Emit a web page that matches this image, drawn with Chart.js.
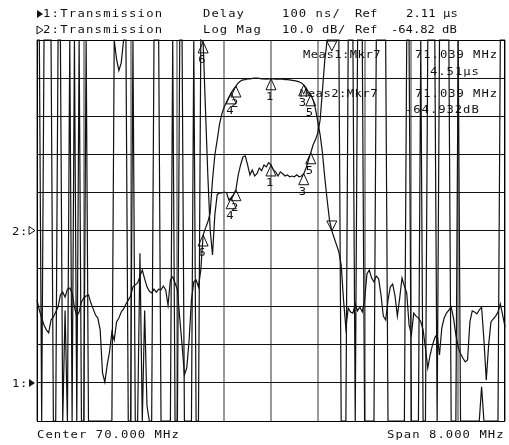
<!DOCTYPE html>
<html><head><meta charset="utf-8">
<script src="https://cdn.jsdelivr.net/npm/chart.js@4.4.0/dist/chart.umd.min.js"></script>
<style>html,body{margin:0;padding:0;background:#fff;overflow:hidden}#wrap{position:relative;width:509px;height:445px}</style>
</head><body><div id="wrap"><canvas id="c" width="509" height="445"></canvas></div>
<script>
// Sweep: 66..74 MHz, 201 points
const startMHz = 66.0, stopMHz = 74.0, nPoints = 201;
// Trace 1: group delay (µs)  (values at 3.01 / 2.01 are pinned at the screen edges)
const delayUs = [
3.01,3.01,2.01,3.01,3.01,3.01,3.01,2.01,2.01,3.01,
3.01,2.01,2.30,2.01,3.01,2.01,3.01,2.01,3.01,2.01,
2.01,3.01,2.01,2.01,2.01,2.01,2.01,2.01,2.01,2.01,
2.01,2.01,2.01,3.01,2.96,2.93,2.95,3.01,3.01,2.01,
2.01,3.01,2.01,2.01,2.45,2.01,2.30,2.05,2.01,2.01,
3.01,3.01,3.01,2.01,2.01,2.01,2.01,2.01,3.01,2.01,
2.01,3.01,3.01,2.01,2.01,2.01,2.01,3.01,2.01,2.01,
3.01,3.005,2.827,2.656,2.512,2.446,2.551,2.604,2.609,2.609,
2.611,2.609,2.590,2.596,2.604,2.617,2.656,2.682,2.703,2.706,
2.682,2.656,2.669,2.653,2.659,2.674,2.667,2.682,2.677,2.688,
2.682,2.669,2.664,2.653,2.664,2.659,2.653,2.656,2.651,2.653,
2.651,2.656,2.651,2.653,2.659,2.674,2.695,2.714,2.735,2.748,
2.766,2.800,2.879,2.958,3.04,3.6,4.51,3.5,3.01,3.01,
2.01,2.01,2.01,3.01,3.01,3.01,2.01,3.01,3.01,3.01,
2.01,2.01,2.01,2.01,2.01,3.01,3.01,3.01,3.01,3.01,
2.01,2.01,2.01,2.01,2.01,2.01,2.01,2.01,3.01,3.01,
2.01,2.01,2.01,2.01,3.01,2.01,2.01,3.01,3.01,3.01,
3.01,2.01,3.01,3.01,3.01,3.01,3.01,2.01,2.01,2.01,
3.01,2.01,2.01,2.01,2.01,2.01,2.01,2.01,2.01,2.01,
2.10,2.01,2.01,2.01,2.01,2.01,2.01,2.01,3.01,3.01,
3.01];
// Trace 2: log magnitude (dB)
const logMagDb = [
-83.1,-85.7,-87.8,-89.6,-90.9,-91.7,-88.3,-87.5,-86.2,-84.9,
-81.7,-81.0,-82.3,-80.2,-79.9,-81.2,-84.9,-87.3,-86.2,-83.6,
-82.5,-82.0,-81.7,-83.8,-85.4,-87.0,-87.8,-90.9,-102.2,-104.6,
-100.1,-96.7,-91.5,-93.6,-88.8,-87.8,-86.2,-85.4,-84.1,-83.1,
-82.0,-79.6,-79.1,-78.6,-76.8,-75.2,-77.5,-79.6,-80.7,-81.2,
-80.2,-81.0,-80.2,-80.4,-79.4,-80.4,-84.4,-77.8,-77.0,-78.6,
-80.4,-87.8,-94.9,-102.7,-100.9,-93.6,-83.1,-78.3,-77.8,-79.6,
-75.2,-66.0,-64.2,-62.6,-60.2,-51.6,-45.0,-41.1,-36.9,-34.2,
-32.4,-31.1,-29.8,-28.7,-27.7,-26.9,-26.1,-25.6,-25.3,-25.2,
-25.05,-25.0,-24.9,-24.8,-24.8,-24.9,-25.0,-25.0,-25.1,-25.0,
-25.0,-25.0,-25.1,-25.1,-25.0,-25.1,-25.2,-25.2,-25.3,-25.4,
-25.5,-25.6,-25.8,-26.1,-26.6,-27.4,-28.5,-29.2,-30.6,-32.9,
-36.3,-39.7,-44.5,-51.0,-56.8,-62.1,-64.932,-66.8,-68.6,-70.5,
-73.9,-83.1,-90.4,-85.2,-86.2,-86.5,-84.1,-85.9,-84.9,-86.2,
-83.1,-76.2,-75.2,-77.3,-78.3,-76.8,-77.5,-81.7,-87.3,-88.3,
-83.1,-79.6,-78.9,-82.0,-87.3,-82.5,-77.3,-79.4,-81.2,-89.6,
-92.2,-86.5,-87.3,-87.8,-88.8,-90.9,-95.7,-100.9,-97.5,-94.9,
-93.0,-92.0,-97.5,-90.4,-87.8,-86.5,-85.7,-84.9,-87.8,-92.2,
-95.4,-97.2,-98.3,-99.3,-98.8,-88.8,-85.9,-86.2,-86.7,-85.7,
-84.9,-93.6,-104.1,-94.9,-88.8,-88.0,-87.3,-86.2,-84.1,-87.0,
-90.1];
// Markers 1..7 (MHz)
const markerNames = ['1','2','3','4','5','6','7'];
const markerFreqs = [70.00, 69.40, 70.56, 69.32, 70.68, 68.84, 71.04];
const activeMarker = '7';
const activeMarkerReadMHz = '71.039';
// Scale settings
const delayRef = 2.11, delayPerDiv = 0.1, delayRefPos = 1;   // µs
const magRef = -64.82, magPerDiv = 10, magRefPos = 5;        // dB
const divisions = 10;

const step = (stopMHz - startMHz) / (nPoints - 1);
const freqs = Array.from({length: nPoints}, (_, i) => startMHz + i * step);
const dMin = delayRef - delayRefPos * delayPerDiv, dMax = dMin + divisions * delayPerDiv;
const mMin = magRef - magRefPos * magPerDiv, mMax = mMin + divisions * magPerDiv;
const clamp = (v, a, b) => Math.max(a, Math.min(b, v));

const FONT = '10px "DejaVu Sans Mono"';
function spaced(ctx, s, x, y, pitch) {
  for (let k = 0; k < s.length; k++) {
    ctx.save();
    ctx.translate(x + k * pitch, y);
    ctx.scale(1.22, 1);
    ctx.fillText(s[k], 0, 0);
    ctx.restore();
  }
}
function tri(ctx, x, y, dir, fill) {
  ctx.beginPath();
  if (dir === 'right') { ctx.moveTo(x, y - 4); ctx.lineTo(x + 6, y); ctx.lineTo(x, y + 4); }
  else if (dir === 'up') { ctx.moveTo(x, y); ctx.lineTo(x - 5, y + 11); ctx.lineTo(x + 5, y + 11); }
  else { ctx.moveTo(x, y); ctx.lineTo(x - 5, y - 10); ctx.lineTo(x + 5, y - 10); }
  ctx.closePath();
  if (fill) ctx.fill(); else ctx.stroke();
}

const overlay = {
  id: 'overlay',
  afterDatasetsDraw(chart) {
    const ctx = chart.ctx, a = chart.chartArea;
    const xs = chart.scales.x, ym = chart.scales.mag, yd = chart.scales.dly;
    ctx.save();
    ctx.strokeStyle = '#000'; ctx.lineWidth = 1;
    ctx.strokeRect(Math.round(a.left) + 0.5, Math.round(a.top) + 0.5, Math.round(a.right - a.left) - 1, Math.round(a.bottom - a.top));
    ctx.fillStyle = '#111'; ctx.font = FONT; ctx.textBaseline = 'alphabetic';
    // markers
    const traces = [[delayUs, yd, dMin, dMax], [logMagDb, ym, mMin, mMax]];
    traces.forEach(([arr, ys, lo, hi]) => {
      markerFreqs.forEach((f, m) => {
        const idx = Math.round((f - startMHz) / step);
        const px = xs.getPixelForValue(freqs[idx]);
        let py = ys.getPixelForValue(clamp(arr[idx], lo, hi));
        ctx.lineWidth = 1; ctx.strokeStyle = '#111';
        if (markerNames[m] === activeMarker) {
          py = Math.max(py, a.top + 11);
          tri(ctx, px, py, 'down', false);
        } else {
          tri(ctx, px, py, 'up', false);
          spaced(ctx, markerNames[m], px - 5, py + 21, 8);
        }
      });
    });
    // header
    ctx.textAlign = 'left';
    tri(ctx, 37, 14, 'right', true);
    spaced(ctx, '1:Transmission', 43, 17, 8.6);
    spaced(ctx, 'Delay', 203, 17, 8.4);
    spaced(ctx, '100 ns/', 282, 17, 8.4);
    spaced(ctx, 'Ref', 355, 17, 7.5);
    spaced(ctx, delayRef.toFixed(2) + ' μs', 406, 17, 7.4);
    tri(ctx, 37, 30, 'right', false);
    spaced(ctx, '2:Transmission', 43, 33, 8.6);
    spaced(ctx, 'Log Mag', 203, 33, 8.4);
    spaced(ctx, magPerDiv.toFixed(1) + ' dB/', 282, 33, 8.0);
    spaced(ctx, 'Ref', 355, 33, 7.5);
    spaced(ctx, magRef.toFixed(2) + ' dB', 391, 33, 7.3);
    // marker readouts
    const i7 = Math.round((markerFreqs[6] - startMHz) / step);
    spaced(ctx, 'Meas1:Mkr7', 303, 58, 7.8);
    spaced(ctx, activeMarkerReadMHz + ' MHz', 415, 58, 8.3);
    spaced(ctx, delayUs[i7].toFixed(2) + 'μs', 430, 75, 8.3);
    spaced(ctx, 'Meas2:Mkr7', 300, 97, 7.8);
    spaced(ctx, activeMarkerReadMHz + ' MHz', 415, 97, 8.3);
    spaced(ctx, logMagDb[i7].toFixed(3) + 'dB', 405, 113, 8.3);
    // reference position indicators
    const yr2 = ym.getPixelForValue(magRef), yr1 = yd.getPixelForValue(delayRef);
    spaced(ctx, '2:', 12, yr2 + 4, 8);
    tri(ctx, 29, yr2, 'right', false);
    spaced(ctx, '1:', 12, yr1 + 4, 8);
    tri(ctx, 29, yr1, 'right', true);
    // footer
    spaced(ctx, 'Center ' + ((startMHz + stopMHz) / 2).toFixed(3) + ' MHz', 37, 438, 8.4);
    spaced(ctx, 'Span ' + (stopMHz - startMHz).toFixed(3) + ' MHz', 387, 438, 8.4);
    ctx.restore();
  }
};

function evenTicks(min, max) {
  return Array.from({length: divisions + 1}, (_, k) => ({value: min + k * (max - min) / divisions}));
}

new Chart(document.getElementById('c'), {
  type: 'line',
  data: {
    datasets: [
      { label: 'Delay', yAxisID: 'dly', data: delayUs.map((v, i) => ({x: freqs[i], y: clamp(v, dMin, dMax)})),
        borderColor: '#111', borderWidth: 1.2, pointRadius: 0, tension: 0, clip: 1 },
      { label: 'Log Mag', yAxisID: 'mag', data: logMagDb.map((v, i) => ({x: freqs[i], y: clamp(v, mMin, mMax)})),
        borderColor: '#111', borderWidth: 1.2, pointRadius: 0, tension: 0, clip: 1 }
    ]
  },
  options: {
    responsive: false, animation: false, devicePixelRatio: 1,
    layout: { padding: { left: 37, top: 40, right: 4, bottom: 24 } },
    plugins: { legend: { display: false }, tooltip: { enabled: false } },
    scales: {
      x: { type: 'linear', min: startMHz, max: stopMHz,
        afterBuildTicks: s => { s.ticks = evenTicks(startMHz, stopMHz); },
        ticks: { display: false }, border: { display: false },
        grid: { drawTicks: false, lineWidth: 2, color: '#999' } },
      mag: { type: 'linear', position: 'left', min: mMin, max: mMax,
        afterBuildTicks: s => { s.ticks = evenTicks(mMin, mMax); },
        ticks: { display: false }, border: { display: false },
        grid: { drawTicks: false, lineWidth: 1, color: '#111' } },
      dly: { type: 'linear', display: false, min: dMin, max: dMax }
    }
  },
  plugins: [overlay]
});
</script></body></html>
